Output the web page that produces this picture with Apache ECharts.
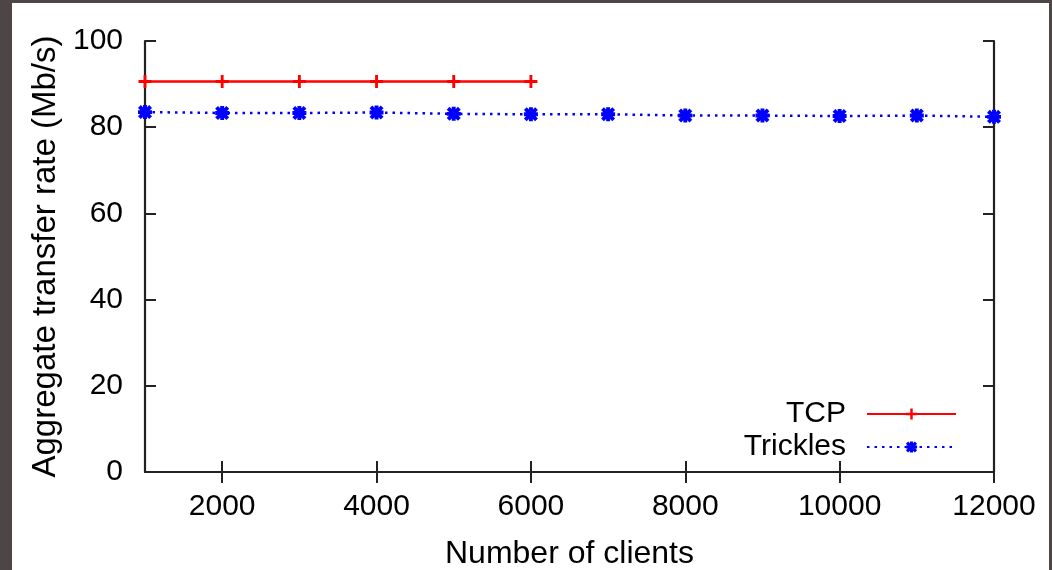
<!DOCTYPE html>
<html>
<head>
<meta charset="utf-8">
<script src="https://cdn.jsdelivr.net/npm/echarts@6/dist/echarts.min.js"></script>
<style>
  html, body { margin: 0; padding: 0; width: 1052px; height: 570px; background: #4d4546; overflow: hidden; }
  #chart { position: absolute; left: 12px; top: 3px; width: 1037px; height: 567px; background: #ffffff; }
</style>
</head>
<body>
<div id="chart"></div>
<script>
// 数据
const clients = [1000, 2000, 3000, 4000, 5000, 6000, 7000, 8000, 9000, 10000, 11000, 12000]
const tcpRate = [90.6, 90.6, 90.6, 90.6, 90.6, 90.6]
const tricklesRate = [83.5, 83.3, 83.3, 83.4, 83.1, 83.0, 83.0, 82.7, 82.7, 82.6, 82.7, 82.4]
const xTickValues = [2000, 4000, 6000, 8000, 10000, 12000]

const font = '"Liberation Sans", Arial, Helvetica, sans-serif'
const axisColor = '#222222'

// gnuplot 风格的点形
const plusPath = 'path://M3.9,0H6.1V3.9H10V6.1H6.1V10H3.9V6.1H0V3.9H3.9Z'
const starPath = 'path://M3.6,0H6.4V3.6H10V6.4H6.4V10H3.6V6.4H0V3.6H3.6Z' +
  'M0,2L2,0L5,3L8,0L10,2L7,5L10,8L8,10L5,7L2,10L0,8L3,5Z'

const chart = echarts.init(document.getElementById('chart'))

const boxAxis = {
  axisLine: { show: true, lineStyle: { color: axisColor, width: 2.2 } },
  splitLine: { show: false }
}
const tickStyle = { color: axisColor, width: 2 }

chart.setOption({
  animation: false,
  textStyle: { fontFamily: font },
  grid: { left: 133, top: 38, right: 55, bottom: 98, outerBoundsMode: 'none' },
  legend: {
    orient: 'vertical',
    align: 'right',
    right: 87,
    top: 391,
    itemWidth: 89,
    itemHeight: 14,
    itemGap: 3,
    textStyle: { fontSize: 30, color: '#000', fontFamily: font, padding: [0, 16, 0, 0] },
    data: ['TCP', 'Trickles']
  },
  xAxis: [
    {
      ...boxAxis,
      type: 'value',
      min: 1000,
      max: 12000,
      name: 'Number of clients',
      nameLocation: 'middle',
      nameGap: 66,
      nameTextStyle: { fontSize: 32, color: '#000', fontFamily: font },
      axisTick: { inside: true, length: 11, lineStyle: tickStyle, customValues: xTickValues },
      axisLabel: { fontSize: 30, color: '#000', margin: 20, customValues: xTickValues, formatter: v => String(v) }
    },
    {
      ...boxAxis,
      type: 'value',
      position: 'top',
      min: 1000,
      max: 12000,
      axisTick: { inside: true, length: 11, lineStyle: tickStyle, customValues: xTickValues },
      axisLabel: { show: false }
    }
  ],
  yAxis: [
    {
      ...boxAxis,
      type: 'value',
      min: 0,
      max: 100,
      interval: 20,
      name: 'Aggregate transfer rate (Mb/s)',
      nameLocation: 'middle',
      nameGap: 81,
      nameTextStyle: { fontSize: 33, color: '#000', fontFamily: font },
      axisTick: { inside: true, length: 11, lineStyle: tickStyle },
      axisLabel: { fontSize: 30, color: '#000', margin: 22, formatter: v => String(v) }
    },
    {
      ...boxAxis,
      type: 'value',
      position: 'right',
      min: 0,
      max: 100,
      interval: 20,
      axisTick: { inside: true, length: 11, lineStyle: tickStyle },
      axisLabel: { show: false }
    }
  ],
  series: [
    {
      name: 'TCP',
      type: 'line',
      data: tcpRate.map((v, i) => [clients[i], v]),
      symbol: plusPath,
      symbolSize: 13,
      color: '#ff0000',
      lineStyle: { color: '#ff0000', width: 2.5 },
      itemStyle: { color: '#ff0000' }
    },
    {
      name: 'Trickles',
      type: 'line',
      data: tricklesRate.map((v, i) => [clients[i], v]),
      symbol: starPath,
      symbolSize: 14,
      color: '#0000ff',
      lineStyle: { color: '#0000ff', width: 2.5, type: [2.5, 5] },
      itemStyle: { color: '#0000ff' }
    }
  ]
})
</script>
</body>
</html>
